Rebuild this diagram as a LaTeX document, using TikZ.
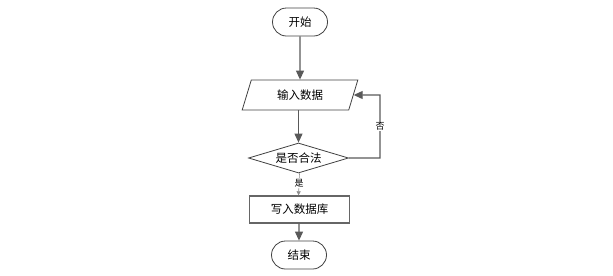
\documentclass[tikz,border=0pt]{standalone}
\usepackage{fontspec}
\newfontfamily\cjk{Noto Sans CJK SC}
\usetikzlibrary{shapes.geometric,shapes.misc,arrows.meta}
\begin{document}
\begin{tikzpicture}[x=1bp,y=-1bp,
  every node/.style={font=\cjk\fontsize{11.5bp}{13bp}\selectfont, inner sep=0pt},
  term/.style={rounded rectangle, draw=black!75, line width=0.8bp, minimum width=55bp, minimum height=28bp},
  iobox/.style={trapezium, trapezium left angle=68, trapezium right angle=112, trapezium stretches=true, draw=black!75, line width=0.8bp, minimum width=116bp, minimum height=30bp},
  decide/.style={diamond, aspect=3.33, draw=black!75, line width=0.8bp, minimum width=100bp, minimum height=30bp},
  procbox/.style={rectangle, draw=black!60, line width=1.4bp, minimum width=100bp, minimum height=27bp},
  flow/.style={draw=black!65, line width=1.1bp, -{Triangle[length=9bp,width=8bp]}},
  thinflow/.style={draw=black!45, line width=0.6bp, -{Triangle[length=4bp,width=4bp]}},
  lbl/.style={fill=white, font=\cjk\fontsize{9bp}{10bp}\selectfont, inner sep=1bp}
]
\useasboundingbox (0,0) rectangle (613,275);
\node[term] (start) at (300,22) {开始};
\node[iobox] (input) at (300,95) {输入数据};
\node[decide] (check) at (298.5,158) {是否合法};
\node[procbox] (write) at (299.5,209.5) {写入数据库};
\node[term] (stop) at (299,255) {结束};
\coordinate (loopA) at (380,158);
\coordinate (loopB) at (380,95);
\draw[flow] (start) -- (input);
\draw[flow] (input.south -| check.north) -- (check);
\draw[thinflow] (check.south -| write.north) -- node[lbl, pos=0.45] {是} (write.north -| check.south);
\draw[flow] (write.south -| stop.north) -- (stop);
\draw[flow] (check.east) -- (loopA) -- node[lbl, pos=0.5] {否} (loopB) -- (input.east);
\end{tikzpicture}
\end{document}
